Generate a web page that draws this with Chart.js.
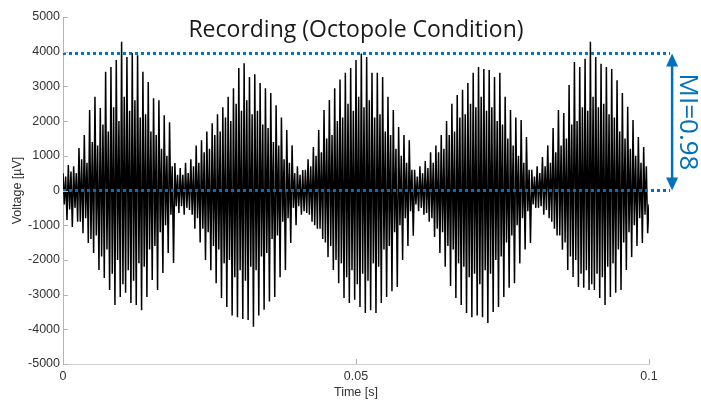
<!DOCTYPE html>
<html>

<head>
  <title>Recording (Octopole Condition)</title>
  <script src="https://cdn.jsdelivr.net/npm/chart.js"></script>
  <style>
    body {
      margin: 0;
      background-color: #ffffff;
    }
    #wrap {
      width: 701px;
      height: 401px;
      position: relative;
    }
  </style>
</head>

<body>
  <div id="wrap">
    <canvas id="recordingChart"></canvas>
  </div>

  <script>
    // spike tops / bottoms for each of the 5 bursts (uV)
    const burst1Up = [500, 735, 700, 1225, 1600, 2320, 2700, 2380, 3420, 3560, 3760, 4290, 3850, 3960, 3900, 3420, 3130, 2660, 2600, 2170, 1970, 790];
    const burst1Low = [-850, -1050, -900, -1230, -1510, -1800, -2290, -2520, -2870, -3300, -3070, -2950, -3240, -3300, -3450, -3070, -2580, -2870, -2380, -1800, -2090, -650];
    const burst2Up = [650, 800, 900, 1300, 1450, 1700, 1940, 2200, 2400, 2700, 2950, 3530, 3670, 3270, 3350, 3100, 2950, 2810, 2460, 2100, 1740, 1300];
    const burst2Low = [-700, -560, -1100, -1500, -2000, -2300, -2670, -3100, -3360, -3600, -3650, -3700, -3730, -3930, -3600, -3440, -3200, -3070, -2500, -2290, -1510, -1000];
    const burst3Up = [700, 590, 900, 1250, 1740, 2320, 2610, 2950, 3200, 3390, 3530, 3760, 3950, 3850, 3390, 3390, 3270, 2700, 2320, 1830, 1600, 1450];
    const burst3Low = [-700, -650, -900, -1100, -1400, -1920, -2290, -2670, -3100, -3240, -3150, -3360, -3530, -3450, -3530, -3240, -3070, -2900, -2780, -2000, -1600, -1300];
    const burst4Up = [600, 700, 850, 1100, 1300, 1600, 2000, 2500, 2750, 2900, 3100, 3390, 3560, 3500, 3470, 3270, 3390, 2700, 2320, 2100, 2030, 1540];
    const burst4Low = [-600, -700, -900, -1340, -1800, -2200, -2750, -3100, -3300, -3530, -3650, -3600, -3650, -3820, -3500, -3360, -3070, -2800, -2670, -2100, -1700, -1510];
    const burst5Up = [600, 700, 965, 1300, 1800, 2320, 2230, 3040, 3700, 3560, 3800, 4290, 3850, 3650, 3560, 3500, 3180, 2810, 2410, 2030, 1540, 1250];
    const burst5Low = [-500, -450, -560, -900, -1300, -1710, -2290, -2490, -2780, -2800, -2870, -2870, -3100, -3300, -3070, -2950, -2870, -2290, -1920, -1600, -1510, -1230];
    // smaller in-between spikes (uV, swing both ways)
    const burst1Mid = [400, 550, 500, 900, 800, 1400, 1300, 1900, 1700, 2400, 2000, 2700, 2300, 2600, 2100, 2200, 1700, 1600, 1200, 1000, 700, 450];
    const burst2Mid = [450, 500, 700, 800, 1100, 1200, 1600, 1700, 2100, 2000, 2500, 2300, 2600, 2200, 2300, 1900, 1800, 1400, 1300, 900, 800, 500];
    const burst3Mid = [450, 600, 700, 1000, 1100, 1500, 1600, 2000, 2100, 2500, 2300, 2700, 2400, 2600, 2100, 2200, 1700, 1600, 1200, 1000, 800, 600];
    const burst4Mid = [400, 500, 650, 800, 1100, 1200, 1600, 1700, 2100, 2200, 2500, 2400, 2700, 2300, 2400, 2000, 1900, 1500, 1300, 1000, 800, 600];
    const burst5Mid = [400, 500, 700, 800, 1100, 1300, 1500, 1900, 2000, 2400, 2300, 2700, 2400, 2500, 2200, 2100, 1700, 1500, 1200, 1000, 800, 700];
    const endValue = -400;

    const timeStart = 0;
    const timeEnd = 0.1;
    const xTicks = [0, 0.05, 0.1];
    const yTicks = [-5000, -4000, -3000, -2000, -1000, 0, 1000, 2000, 3000, 4000, 5000];

    const miTop = 3950;
    const miBottom = 0;
    const miLineEnd = 0.1036;
    const miLabel = 'MI=0.98';
    const titleText = 'Recording (Octopole Condition)';

    const blue = '#0072BD';
    const axisGrey = '#b4b4b4';
    const textGrey = '#333333';

    function buildTrace() {
      var bursts = [
        [burst1Up, burst1Low, burst1Mid],
        [burst2Up, burst2Low, burst2Mid],
        [burst3Up, burst3Low, burst3Mid],
        [burst4Up, burst4Low, burst4Mid],
        [burst5Up, burst5Low, burst5Mid]
      ];
      var values = [];
      bursts.forEach(function (b) {
        for (var i = 0; i < b[0].length; i++) {
          values.push(b[0][i]);
          values.push(-b[2][i]);
          values.push(b[2][i]);
          values.push(b[1][i]);
        }
      });
      values.push(endValue);
      var n = values.length - 1;
      return values.map(function (v, k) {
        return { x: timeStart + (timeEnd - timeStart) * k / n, y: v };
      });
    }

    // inward tick marks, axis titles, title text, MI arrow
    const decorations = {
      id: 'decorations',
      afterDatasetsDraw: function (chart) {
        var ctx = chart.ctx;
        var xs = chart.scales.x;
        var ys = chart.scales.y;
        var area = chart.chartArea;

        ctx.save();
        ctx.strokeStyle = axisGrey;
        ctx.lineWidth = 1;
        ctx.beginPath();
        yTicks.forEach(function (t) {
          var py = Math.round(ys.getPixelForValue(t)) + 0.5;
          ctx.moveTo(area.left, py);
          ctx.lineTo(area.left + 5, py);
        });
        xTicks.forEach(function (t) {
          var px = Math.round(xs.getPixelForValue(t)) + 0.5;
          ctx.moveTo(px, area.bottom);
          ctx.lineTo(px, area.bottom - 5);
        });
        ctx.stroke();

        // MI double arrow
        var ax = xs.getPixelForValue(miLineEnd) + 2;
        var yT = ys.getPixelForValue(miTop);
        var yB = ys.getPixelForValue(miBottom);
        ctx.strokeStyle = blue;
        ctx.fillStyle = blue;
        ctx.lineWidth = 2.5;
        ctx.beginPath();
        ctx.moveTo(ax, yT + 10);
        ctx.lineTo(ax, yB - 10);
        ctx.stroke();
        ctx.beginPath();
        ctx.moveTo(ax, yT);
        ctx.lineTo(ax - 6, yT + 13);
        ctx.lineTo(ax + 6, yT + 13);
        ctx.closePath();
        ctx.fill();
        ctx.beginPath();
        ctx.moveTo(ax, yB);
        ctx.lineTo(ax - 6, yB - 13);
        ctx.lineTo(ax + 6, yB - 13);
        ctx.closePath();
        ctx.fill();

        ctx.save();
        ctx.translate(ax + 15, (yT + yB) / 2);
        ctx.rotate(Math.PI / 2);
        ctx.font = '26px "Open Sans", "Noto Sans", sans-serif';
        ctx.textAlign = 'center';
        ctx.textBaseline = 'middle';
        ctx.fillText(miLabel, 0, 0);
        ctx.restore();

        // title inside the axes
        ctx.fillStyle = '#1a1a1a';
        ctx.font = '23px "Open Sans", "Noto Sans", sans-serif';
        ctx.textAlign = 'center';
        ctx.textBaseline = 'middle';
        ctx.fillText(titleText, (area.left + area.right) / 2, area.top + 13);

        // axis titles
        ctx.fillStyle = textGrey;
        ctx.font = '12.5px "Liberation Sans", Arial, sans-serif';
        ctx.fillText('Time [s]', (area.left + area.right) / 2, area.bottom + 29);
        ctx.save();
        ctx.translate(18, (area.top + area.bottom) / 2);
        ctx.rotate(-Math.PI / 2);
        ctx.fillText('Voltage [\u00b5V]', 0, 0);
        ctx.restore();
        ctx.restore();
      }
    };

    var ctx = document.getElementById('recordingChart').getContext('2d');
    var recordingChart = new Chart(ctx, {
      type: 'line',
      data: {
        datasets: [
          {
            label: 'MI top',
            data: [{ x: timeStart, y: miTop }, { x: miLineEnd, y: miTop }],
            borderColor: blue,
            borderWidth: 3,
            borderDash: [3, 3],
            pointRadius: 0,
            clip: false,
            order: 1
          },
          {
            label: 'MI bottom',
            data: [{ x: timeStart, y: miBottom }, { x: miLineEnd, y: miBottom }],
            borderColor: blue,
            borderWidth: 3,
            borderDash: [3, 3],
            pointRadius: 0,
            clip: false,
            order: 1
          },
          {
            label: 'Recording',
            data: buildTrace(),
            borderColor: '#000000',
            borderWidth: 1.5,
            pointRadius: 0,
            tension: 0,
            order: 2
          }
        ]
      },
      options: {
        responsive: true,
        maintainAspectRatio: false,
        animation: false,
        layout: {
          padding: { left: 0, right: 52, top: 17, bottom: 0 }
        },
        plugins: {
          legend: { display: false },
          tooltip: { enabled: false }
        },
        scales: {
          x: {
            type: 'linear',
            min: timeStart,
            max: timeEnd,
            afterFit: function (scale) { scale.height = 37; },
            afterBuildTicks: function (scale) {
              scale.ticks = xTicks.map(function (v) { return { value: v }; });
            },
            ticks: {
              padding: 5,
              color: textGrey,
              maxRotation: 0,
              font: { family: '"Liberation Sans", Arial, sans-serif', size: 12.5 },
              callback: function (v) { return String(v); }
            },
            grid: { display: true, drawOnChartArea: false, drawTicks: false },
            border: { display: true, color: '#d0d0d0' }
          },
          y: {
            type: 'linear',
            min: -5000,
            max: 5000,
            afterFit: function (scale) { scale.width = 63; },
            afterBuildTicks: function (scale) {
              scale.ticks = yTicks.map(function (v) { return { value: v }; });
            },
            ticks: {
              padding: 3,
              color: textGrey,
              font: { family: '"Liberation Sans", Arial, sans-serif', size: 12.5 },
              callback: function (v) { return String(v); }
            },
            grid: { display: true, drawOnChartArea: false, drawTicks: false },
            border: { display: true, color: axisGrey }
          }
        }
      },
      plugins: [decorations]
    });
  </script>
</body>

</html>
